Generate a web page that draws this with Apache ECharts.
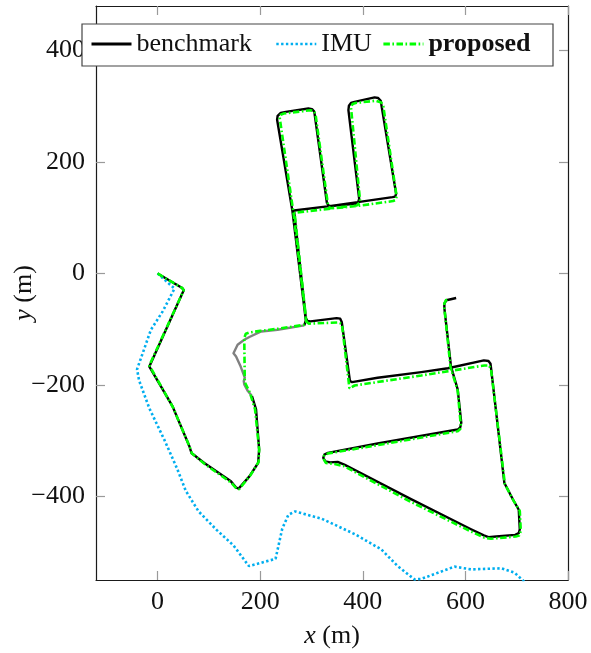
<!DOCTYPE html>
<html>
<head>
<meta charset="utf-8">
<script src="https://cdn.jsdelivr.net/npm/echarts@6/dist/echarts.min.js"></script>
<style>
html,body{margin:0;padding:0;background:#fff;}
#chart{width:591px;height:653px;}
</style>
</head>
<body>
<div id="chart"></div>
<script>
// ---- data (metres) ----
const xTicks = [0, 200, 400, 600, 800];
const yTicks = [-400, -200, 0, 200, 400];

// benchmark, first stretch (black)
const benchmarkA = [[0,0],[48,-26],[51,-30],[-16,-167],[29,-238],[62,-310],[66,-322],[91,-340],[143,-373],[153,-384],[158,-386],[179,-364],[196,-340],[198,-316],[192,-244],[184,-220]];
// benchmark, degraded stretch (grey)
const benchmarkGap = [[184,-220],[176,-211],[169,-199],[168,-193],[170,-187],[162,-167],[153,-149],[148,-143],[156,-128],[169,-119],[179,-114],[202,-104],[234,-101],[286,-93]];
// benchmark, rest (black)
const benchmarkB = [[286,-93],[289,-84],[263,111],[233,276],[234,283],[240,288],[250,290],[294,296],[301,295],[305,291],[306,287],[330,127],[333,122],[338,121],[385,125],[391,128],[393,134],[372,293],[373,301],[377,306],[384,308],[423,316],[430,315],[435,310],[436,304],[465,143],[463,138],[458,137],[397,129],[335,121],[266,113],[289,-80],[292,-85],[298,-86],[349,-80],[356,-81],[359,-87],[375,-193],[379,-195],[429,-187],[514,-177],[566,-170],[636,-156],[645,-157],[649,-162],[650,-170],[676,-376],[693,-406],[704,-424],[706,-459],[704,-466],[697,-469],[660,-472],[645,-473],[636,-470],[611,-459],[494,-405],[364,-343],[351,-338],[336,-339],[327,-337],[323,-331],[325,-325],[332,-322],[429,-305],[585,-280],[590,-276],[592,-268],[585,-208],[572,-167],[559,-62],[559,-54],[563,-48],[582,-44]];

const imu = [[0,0],[33,-27],[10,-68],[-13,-101],[-40,-172],[-36,-192],[-16,-242],[14,-300],[38,-350],[55,-390],[80,-427],[115,-460],[148,-488],[178,-525],[230,-512],[243,-458],[255,-433],[268,-427],[320,-440],[385,-468],[436,-495],[468,-525],[501,-549],[514,-548],[579,-526],[611,-531],[670,-529],[696,-537],[718,-556]];

const proposed = [[0,0],[48,-26],[51,-30],[-16,-165],[30,-240],[63,-312],[67,-323],[92,-342],[143,-375],[154,-386],[159,-387],[181,-362],[197,-338],[198,-316],[190,-244],[180,-214],[170,-195],[169,-116],[172,-108],[178,-106],[200,-103],[236,-99],[287,-92],[290,-88],[265,108],[238,280],[240,285],[246,287],[298,293],[305,291],[308,285],[332,124],[336,117],[388,122],[395,128],[377,298],[380,304],[386,306],[425,310],[436,307],[440,300],[466,138],[464,132],[459,130],[397,122],[333,116],[267,109],[290,-86],[295,-90],[352,-88],[358,-90],[360,-96],[374,-206],[384,-201],[514,-183],[637,-165],[646,-165],[650,-172],[677,-378],[694,-408],[706,-426],[708,-462],[705,-470],[698,-472],[650,-476],[637,-474],[611,-463],[494,-410],[364,-346],[345,-342],[328,-340],[323,-332],[325,-326],[332,-323],[429,-308],[585,-283],[590,-279],[591,-272],[585,-210],[571,-168],[559,-62],[559,-54],[562,-48],[568,-45]];

// ---- chart ----
const FONT = '"Liberation Serif", "DejaVu Serif", serif';
const FS = 26;
const fmt = v => (v < 0 ? '\u2212' + Math.abs(v) : String(v));
const chart = echarts.init(document.getElementById('chart'), null, {renderer: 'canvas'});

const tickStyle = {color: '#9a9a9a', width: 1.2};
const frameStyle = {color: '#1a1a1a', width: 1.2};
const legendBase = {top: 29, padding: 0, itemWidth: 40, itemHeight: 14, z: 10,
  itemStyle: {opacity: 0, borderWidth: 0}, selectedMode: false};

const option = {
  animation: false,
  backgroundColor: '#fff',
  grid: {left: 96, top: 6, width: 472, height: 574, containLabel: false},
  xAxis: [
    {type: 'value', min: -120, max: 800, position: 'bottom',
     axisLine: {show: true, onZero: false, lineStyle: frameStyle},
     axisTick: {show: true, inside: true, length: 9, customValues: xTicks, lineStyle: tickStyle},
     axisLabel: {customValues: xTicks, formatter: fmt, fontFamily: FONT, fontSize: FS, color: '#111', margin: 9},
     splitLine: {show: false}},
    {type: 'value', min: -120, max: 800, position: 'top',
     axisLine: {show: true, onZero: false, lineStyle: frameStyle},
     axisTick: {show: true, inside: true, length: 9, customValues: xTicks, lineStyle: tickStyle},
     axisLabel: {show: false}, splitLine: {show: false}}
  ],
  yAxis: [
    {type: 'value', min: -550, max: 480, position: 'left',
     axisLine: {show: true, onZero: false, lineStyle: frameStyle},
     axisTick: {show: true, inside: true, length: 9, customValues: yTicks, lineStyle: tickStyle},
     axisLabel: {customValues: yTicks, formatter: fmt, fontFamily: FONT, fontSize: FS, color: '#111', margin: 11},
     splitLine: {show: false}},
    {type: 'value', min: -550, max: 480, position: 'right',
     axisLine: {show: true, onZero: false, lineStyle: frameStyle},
     axisTick: {show: true, inside: true, length: 9, customValues: yTicks, lineStyle: tickStyle},
     axisLabel: {show: false}, splitLine: {show: false}}
  ],
  legend: [
    Object.assign({}, legendBase, {data: ['benchmark'], left: 90,
     lineStyle: {width: 3},
     textStyle: {fontFamily: FONT, fontSize: FS, color: '#111', lineHeight: 30}}),
    Object.assign({}, legendBase, {data: ['IMU'], left: 275,
     lineStyle: {width: 2.6},
     textStyle: {fontFamily: FONT, fontSize: FS, color: '#111', lineHeight: 30}}),
    Object.assign({}, legendBase, {data: ['proposed'], left: 382,
     lineStyle: {width: 2.8},
     textStyle: {fontFamily: FONT, fontSize: FS, color: '#111', fontWeight: 'bold', lineHeight: 30}})
  ],
  graphic: [
    {type: 'rect', z: 8, shape: {x: 82, y: 24, width: 471, height: 42},
     style: {fill: '#fff', stroke: '#444', lineWidth: 1.2}},
    {type: 'text', z: 8, x: 24, y: 293, rotation: Math.PI / 2,
     style: {text: '{i|y} (m)', font: FS + 'px ' + FONT, fill: '#111', align: 'center', verticalAlign: 'middle',
       rich: {i: {fontStyle: 'italic', fontFamily: FONT, fontSize: FS}}}},
    {type: 'text', z: 8, x: 332, y: 636,
     style: {text: '{i|x} (m)', font: FS + 'px ' + FONT, fill: '#111', align: 'center', verticalAlign: 'middle',
       rich: {i: {fontStyle: 'italic', fontFamily: FONT, fontSize: FS}}}}
  ],
  series: [
    {name: 'benchmark', type: 'line', data: benchmarkA, symbol: 'none', color: '#000',
     lineStyle: {color: '#000', width: 2.4, join: 'round'}, z: 2},
    {name: 'benchmark-gap', type: 'line', data: benchmarkGap, symbol: 'none', color: '#808080',
     lineStyle: {color: '#808080', width: 2.4, join: 'round'}, z: 2},
    {name: 'benchmark', type: 'line', data: benchmarkB, symbol: 'none', color: '#000',
     lineStyle: {color: '#000', width: 2.4, join: 'round'}, z: 2},
    {name: 'IMU', type: 'line', data: imu, symbol: 'none', color: '#00aeef',
     lineStyle: {color: '#00aeef', width: 2.6, type: [2.4, 2.4], cap: 'butt'}, z: 2},
    {name: 'proposed', type: 'line', data: proposed, symbol: 'none', color: '#00ff00',
     lineStyle: {color: '#00ff00', width: 2.6, type: [6.5, 2.5, 1.6, 2.5], cap: 'butt'}, z: 3}
  ]
};
chart.setOption(option);
</script>
</body>
</html>
